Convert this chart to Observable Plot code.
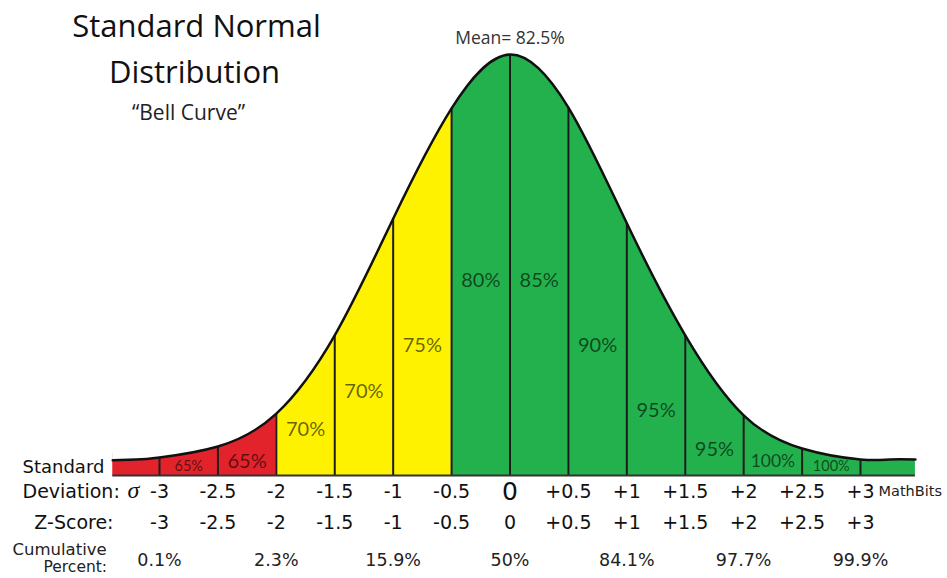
<!DOCTYPE html>
<html><head><meta charset="utf-8">
<script src="https://cdn.jsdelivr.net/npm/d3@7"></script>
<script src="https://cdn.jsdelivr.net/npm/@observablehq/plot@0.6"></script>
<style>body{margin:0;background:#fff;} svg{display:block}</style>
</head><body><div id="chart"></div>
<script>
// ---- data ----
// bell curve: z (standard deviations) and relative height (% of peak)
const curveZ = [-3.4, -3.2, -3, -2.5, -2, -1.5, -1, -0.5, 0, 0.5, 1, 1.5, 2, 2.5, 3, 3.25, 3.47];
const curveH = [3.6, 3.8, 4.3, 6.9, 14.7, 33.3, 61.0, 87.2, 100, 87.4, 59.9, 33.3, 14.3, 6.4, 3.8, 3.8, 3.8];
// bands between the half-sigma lines
const bandStart = [-3.4, -3, -2.5, -2, -1.5, -1, -0.5, 0, 0.5, 1, 1.5, 2, 2.5, 3];
const bandEnd   = [-3, -2.5, -2, -1.5, -1, -0.5, 0, 0.5, 1, 1.5, 2, 2.5, 3, 3.47];
const bandGroup = ["low","low","low","mid","mid","mid","high","high","high","high","high","high","high","high"];
const bandScore = ["", "65%", "65%", "70%", "70%", "75%", "80%", "85%", "90%", "95%", "95%", "100%", "100%", ""];
const bandLabelH = [0, 2.1, 3.3, 10.9, 20, 30.9, 46.3, 46.3, 30.9, 15.4, 6.2, 3.3, 2.1, 0];
// axis rows
const sigmaValues = [-3, -2.5, -2, -1.5, -1, -0.5, 0, 0.5, 1, 1.5, 2, 2.5, 3];
const sigmaLabels = ["-3", "-2.5", "-2", "-1.5", "-1", "-0.5", "0", "+0.5", "+1", "+1.5", "+2", "+2.5", "+3"];
const zScoreLabels = ["-3", "-2.5", "-2", "-1.5", "-1", "-0.5", "0", "+0.5", "+1", "+1.5", "+2", "+2.5", "+3"];
const cumulativeZ = [-3, -2, -1, 0, 1, 2, 3];
const cumulativeLabels = ["0.1%", "2.3%", "15.9%", "50%", "84.1%", "97.7%", "99.9%"];
const meanLabel = "Mean= 82.5%";
const titleLines = ["Standard Normal", "Distribution"];
const subtitle = "\u201CBell Curve\u201D";

// ---- tables ----
const curve = curveZ.map((z, i) => ({z, h: curveH[i]}));
const hAt = z => curveH[curveZ.indexOf(z)];
const bands = bandStart.map((s, i) => ({
  s, e: bandEnd[i], group: bandGroup[i], score: bandScore[i], ly: bandLabelH[i],
  mid: (s + bandEnd[i]) / 2,
  minH: Math.min(hAt(s), hAt(bandEnd[i])),
  maxH: Math.max(hAt(s), hAt(bandEnd[i]))
}));
const labeled = bands.filter(b => b.score);
const rules = sigmaValues.map(z => ({z, h: hAt(z)}));
const sigmaRow = sigmaValues.map((z, i) => ({z, t: sigmaLabels[i]}));
const zRow = sigmaValues.map((z, i) => ({z, t: zScoreLabels[i]}));
const cumRow = cumulativeZ.map((z, i) => ({z, t: cumulativeLabels[i]}));

const sans = "DejaVu Sans, sans-serif";
const calib = "Lato, 'Open Sans', sans-serif";
const head = "'Open Sans', sans-serif";
const fixed = (txt, o) => Plot.text([txt], {text: d => d, lineAnchor: "middle", ...o});

const chart = Plot.plot({
  width: 947, height: 578,
  marginLeft: 159, marginRight: 87, marginTop: 54, marginBottom: 103,
  x: {domain: [-3, 3], axis: null},
  y: {domain: [0, 100], axis: null},
  color: {domain: ["low", "mid", "high"], range: ["#e3232b", "#fff200", "#23b14d"]},
  style: {background: "white"},
  marks: [
    Plot.rect(bands, {x1: "s", x2: "e", y1: 0, y2: d => d.maxH + 1, fill: "group"}),
    Plot.area(curve, {x1: "z", y1: "h", y2: () => 112, fill: "white", stroke: "white", strokeWidth: 1, curve: "natural"}),
    Plot.ruleX(rules, {x: "z", y1: 0, y2: "h", stroke: "#1c1c1c", strokeWidth: 2}),
    Plot.line(curve, {x: "z", y: "h", curve: "natural", stroke: "#111", strokeWidth: 2.5}),
    Plot.ruleY([0], {x1: curveZ[0], x2: curveZ[curveZ.length - 1], stroke: "#333", strokeWidth: 2}),
    Plot.text(labeled, {x: "mid", y: "ly", text: "score", fill: "black", fillOpacity: 0.6,
      fontFamily: calib,
      fontSize: d => d.minH < 5 ? 14.5 : (d.score.length > 3 ? 17.5 : 20)}),
    // title
    fixed(titleLines[0], {frameAnchor: "top-left", dx: 37, dy: -27, textAnchor: "middle", fontFamily: head, fontSize: 31, fill: "#111"}),
    fixed(titleLines[1], {frameAnchor: "top-left", dx: 35, dy: 19, textAnchor: "middle", fontFamily: head, fontSize: 31, fill: "#111"}),
    fixed(subtitle, {frameAnchor: "top-left", dx: 29, dy: 59, textAnchor: "middle", fontFamily: head, fontSize: 21, fill: "#222"}),
    Plot.text([meanLabel], {x: () => 0, frameAnchor: "top", lineAnchor: "middle", dy: -16, text: d => d, fontFamily: head, fontSize: 17.5, fill: "#333"}),
    // bottom rows
    Plot.text(sigmaRow, {x: "z", frameAnchor: "bottom", lineAnchor: "middle", dy: 16, text: "t", fontFamily: sans,
      fontSize: d => d.z === 0 ? 25 : 19, fill: "#111"}),
    Plot.text(["MathBits"], {x: () => 3, frameAnchor: "bottom", lineAnchor: "middle", dx: 18, dy: 16, text: d => d, textAnchor: "start", fontFamily: sans, fontSize: 14.5, fill: "#222"}),
    Plot.text(zRow, {x: "z", frameAnchor: "bottom", lineAnchor: "middle", dy: 47, text: "t", fontFamily: sans, fontSize: 19, fill: "#111"}),
    Plot.text(cumRow, {x: "z", frameAnchor: "bottom", lineAnchor: "middle", dy: 85, text: "t", fontFamily: sans, fontSize: 17.5, fill: "#222"}),
    fixed("Standard", {frameAnchor: "bottom-left", dx: -137, dy: -8, textAnchor: "start", fontFamily: sans, fontSize: 18, fill: "#111"}),
    fixed("Deviation:", {frameAnchor: "bottom-left", dx: -137, dy: 16, textAnchor: "start", fontFamily: sans, fontSize: 19, fill: "#111"}),
    fixed("\u03C3", {frameAnchor: "bottom-left", dx: -32, dy: 15, fontFamily: "Liberation Serif, serif", fontStyle: "italic", fontSize: 24, fill: "#111"}),
    fixed("Z-Score:", {frameAnchor: "bottom-left", dx: -46, dy: 47, textAnchor: "end", fontFamily: sans, fontSize: 19, fill: "#111"}),
    fixed("Cumulative", {frameAnchor: "bottom-left", dx: -147, dy: 74, textAnchor: "start", fontFamily: sans, fontSize: 16.5, fill: "#222"}),
    fixed("Percent:", {frameAnchor: "bottom-left", dx: -116, dy: 92, textAnchor: "start", fontFamily: sans, fontSize: 15.5, fill: "#222"})
  ]
});
document.getElementById("chart").appendChild(chart);
</script>
</body></html>
